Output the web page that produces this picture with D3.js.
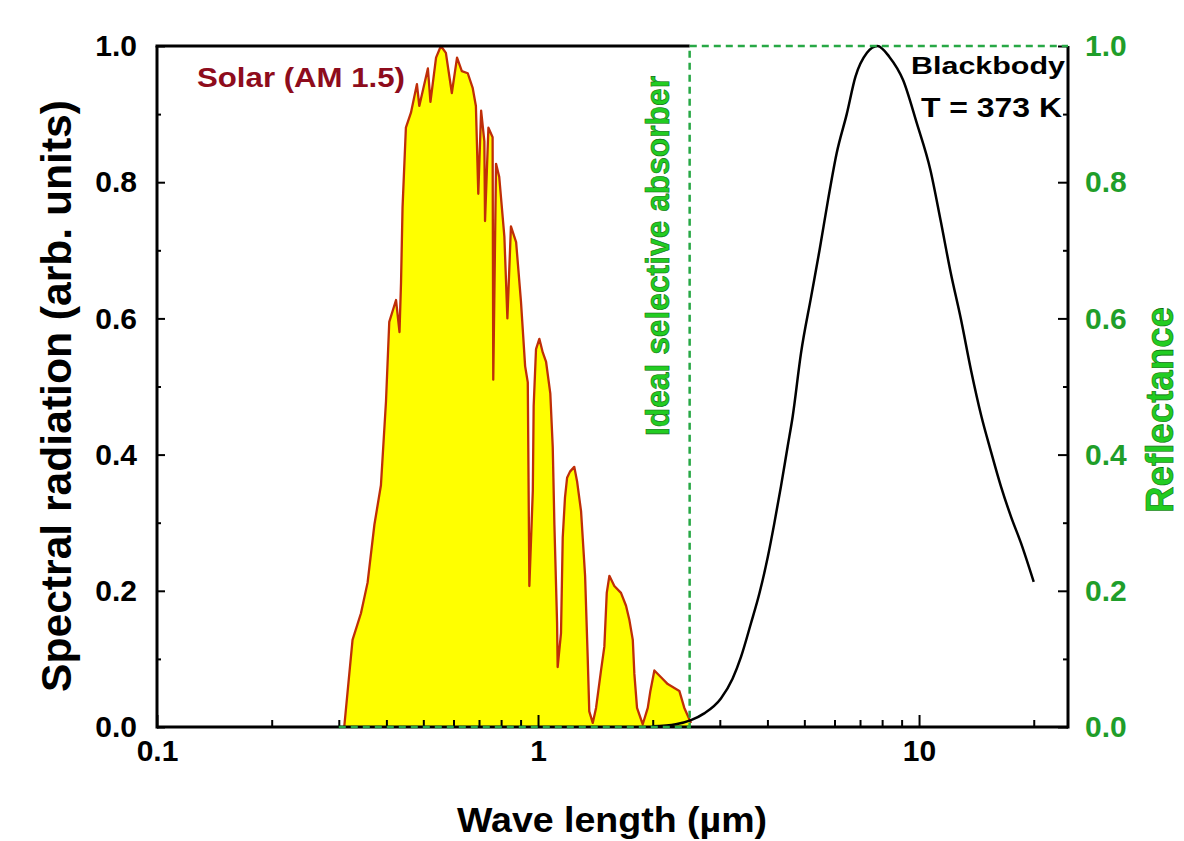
<!DOCTYPE html>
<html>
<head>
<meta charset="utf-8">
<script src="https://cdn.jsdelivr.net/npm/d3@7"></script>
<style>
  body { margin: 0; background: #fff; }
  svg text { font-family: "Liberation Sans", Arial, sans-serif; font-weight: bold; }
</style>
</head>
<body>
<svg id="chart" width="1184" height="841"></svg>
<script>
// solar spectrum (AM 1.5), wavelength in um and normalised value
var solarWl = [0.310, 0.326, 0.343, 0.357, 0.372, 0.387, 0.399, 0.407, 0.424, 0.433,
  0.437, 0.441, 0.450, 0.464, 0.481, 0.488, 0.514, 0.522, 0.540, 0.556,
  0.573, 0.594, 0.613, 0.631, 0.654, 0.674, 0.687, 0.697, 0.709, 0.723,
  0.726, 0.741, 0.760, 0.763, 0.776, 0.791, 0.816, 0.831, 0.849, 0.876,
  0.902, 0.925, 0.940, 0.949, 0.969, 0.974, 0.988, 1.008, 1.029, 1.050,
  1.077, 1.093, 1.104, 1.122, 1.126, 1.149, 1.161, 1.177, 1.192, 1.213,
  1.245, 1.266, 1.297, 1.329, 1.350, 1.363, 1.392, 1.420, 1.464, 1.493,
  1.515, 1.539, 1.586, 1.651, 1.702, 1.736, 1.773, 1.790, 1.819, 1.883,
  1.941, 1.972, 2.020, 2.103, 2.190, 2.349, 2.421, 2.521];
var solarVal = [0.000, 0.128, 0.167, 0.212, 0.297, 0.355, 0.478, 0.595, 0.627, 0.580,
  0.653, 0.763, 0.880, 0.902, 0.944, 0.912, 0.967, 0.918, 0.983, 1.000,
  0.990, 0.931, 0.983, 0.963, 0.960, 0.938, 0.912, 0.783, 0.905, 0.860,
  0.743, 0.880, 0.866, 0.510, 0.827, 0.808, 0.720, 0.600, 0.735, 0.712,
  0.625, 0.530, 0.506, 0.207, 0.347, 0.471, 0.555, 0.570, 0.550, 0.536,
  0.490, 0.411, 0.297, 0.153, 0.088, 0.138, 0.278, 0.337, 0.366, 0.375,
  0.382, 0.361, 0.317, 0.222, 0.103, 0.023, 0.006, 0.028, 0.084, 0.118,
  0.197, 0.222, 0.207, 0.197, 0.178, 0.158, 0.128, 0.078, 0.028, 0.004,
  0.028, 0.053, 0.083, 0.073, 0.063, 0.053, 0.028, 0.006];

// blackbody at 373 K
var bbWl = [2.0, 2.3, 2.52, 2.73, 3.02, 3.24, 3.41, 3.62, 3.81, 4.01,
  4.17, 4.34, 4.52, 4.66, 4.90, 5.21, 5.48, 5.77, 6.08, 6.46,
  6.81, 7.30, 7.78, 8.36, 9.08, 9.86, 10.71, 11.39, 12.11, 12.89,
  13.69, 14.58, 15.4, 16.41, 17.43, 18.52, 20.0];
var bbVal = [0.001, 0.004, 0.010, 0.020, 0.042, 0.071, 0.103, 0.152, 0.196, 0.250,
  0.299, 0.353, 0.412, 0.456, 0.549, 0.632, 0.700, 0.774, 0.843, 0.900,
  0.955, 0.990, 1.000, 0.984, 0.950, 0.887, 0.818, 0.744, 0.667, 0.598,
  0.524, 0.456, 0.407, 0.353, 0.309, 0.270, 0.213];

// ideal selective absorber reflectance
var reflWl = [0.3, 2.5, 2.5, 24.6];
var reflVal = [0, 0, 1, 1];

var xMajor = [0.1, 1, 10];
var xMinor = [0.2, 0.3, 0.4, 0.5, 0.6, 0.7, 0.8, 0.9, 2, 3, 4, 5, 6, 7, 8, 9, 20];
var yMajor = [0, 0.2, 0.4, 0.6, 0.8, 1.0];
var yMinor = [0.1, 0.3, 0.5, 0.7, 0.9];

var svg = d3.select("#chart");
var plot = {left: 157, right: 1068, top: 46, bottom: 727};
var green = "#1f9e2a";

var x = d3.scaleLog().domain([0.1, 24.6]).range([plot.left, plot.right]);
var y = d3.scaleLinear().domain([0, 1]).range([plot.bottom, plot.top]);

var solar = solarWl.map(function(w, i) { return {wl: w, v: solarVal[i]}; });
var bb = bbWl.map(function(w, i) { return {wl: w, v: bbVal[i]}; });
var refl = reflWl.map(function(w, i) { return {wl: w, v: reflVal[i]}; });

// solar fill + outline
svg.append("path")
  .datum(solar)
  .attr("fill", "#ffff00")
  .attr("d", d3.area().x(d => x(d.wl)).y0(y(0)).y1(d => y(d.v)));

svg.append("path")
  .datum(solar)
  .attr("fill", "none")
  .attr("stroke", "#bf2e08")
  .attr("stroke-width", 2.3)
  .attr("stroke-linejoin", "round")
  .attr("d", d3.line().x(d => x(d.wl)).y(d => y(d.v)));

// blackbody
svg.append("path")
  .datum(bb)
  .attr("fill", "none")
  .attr("stroke", "#000")
  .attr("stroke-width", 2.5)
  .attr("d", d3.line().curve(d3.curveMonotoneX).x(d => x(d.wl)).y(d => y(d.v)));

// axes (ticks inward)
var gBottom = svg.append("g").attr("transform", "translate(0," + plot.bottom + ")");
gBottom.call(d3.axisBottom(x).tickValues(xMajor).tickSize(-12).tickPadding(13).tickFormat(d3.format("")));
gBottom.append("g").call(d3.axisBottom(x).tickValues(xMinor).tickSize(-7).tickFormat(""));

var gLeft = svg.append("g").attr("transform", "translate(" + plot.left + ",0)");
gLeft.call(d3.axisLeft(y).tickValues(yMajor).tickSize(-8).tickPadding(20).tickFormat(d3.format(".1f")));
gLeft.append("g").call(d3.axisLeft(y).tickValues(yMinor).tickSize(-4).tickFormat(""));

var gRight = svg.append("g").attr("transform", "translate(" + plot.right + ",0)");
gRight.call(d3.axisRight(y).tickValues(yMajor).tickSize(-10).tickPadding(17).tickFormat(d3.format(".1f")));
gRight.append("g").call(d3.axisRight(y).tickValues(yMinor).tickSize(-5).tickFormat(""));

svg.selectAll(".domain").remove();
svg.selectAll(".tick line").attr("stroke", "#000").attr("stroke-width", 2);
svg.selectAll(".tick text").attr("font-size", 30).attr("fill", "#000")
  .attr("font-family", "'Liberation Sans', Arial, sans-serif").attr("font-weight", "bold");
gRight.selectAll(".tick text").attr("fill", green);

// frame
var frame = svg.append("g").attr("stroke", "#000").attr("stroke-width", 3).attr("fill", "none");
frame.append("line").attr("x1", plot.left).attr("x2", plot.left).attr("y1", plot.top).attr("y2", plot.bottom + 1.5);
frame.append("line").attr("x1", plot.left).attr("x2", plot.right).attr("y1", plot.bottom).attr("y2", plot.bottom);
frame.append("line").attr("x1", plot.right).attr("x2", plot.right).attr("y1", plot.top).attr("y2", plot.bottom + 1.5);
frame.append("line").attr("x1", plot.left - 1.5).attr("x2", x(2.5)).attr("y1", plot.top).attr("y2", plot.top);

// reflectance
svg.append("path")
  .datum(refl)
  .attr("fill", "none")
  .attr("stroke", "#27a845")
  .attr("stroke-width", 2.5)
  .attr("stroke-dasharray", "7,5")
  .attr("d", d3.line().x(d => x(d.wl)).y(d => y(d.v)));

// labels
svg.append("text")
  .attr("x", 197).attr("y", 87)
  .attr("font-size", 28).attr("fill", "#8e0c1c")
  .attr("textLength", 208).attr("lengthAdjust", "spacingAndGlyphs")
  .text("Solar (AM 1.5)");

svg.append("text")
  .attr("x", 911).attr("y", 74)
  .attr("font-size", 23).attr("fill", "#000")
  .attr("textLength", 154).attr("lengthAdjust", "spacingAndGlyphs")
  .text("Blackbody");

svg.append("text")
  .attr("x", 921).attr("y", 117)
  .attr("font-size", 28).attr("fill", "#000")
  .attr("textLength", 141).attr("lengthAdjust", "spacingAndGlyphs")
  .text("T = 373 K");

svg.append("text")
  .attr("transform", "translate(669,256) rotate(-90)")
  .attr("text-anchor", "middle")
  .attr("font-size", 34).attr("fill", "#22cc22")
  .attr("stroke", "#0a6a0a").attr("stroke-width", 0.6)
  .attr("textLength", 360).attr("lengthAdjust", "spacingAndGlyphs")
  .text("Ideal selective absorber");

svg.append("text")
  .attr("transform", "translate(71,396) rotate(-90)")
  .attr("text-anchor", "middle")
  .attr("font-size", 43).attr("fill", "#000")
  .attr("textLength", 592).attr("lengthAdjust", "spacingAndGlyphs")
  .text("Spectral radiation (arb. units)");

svg.append("text")
  .attr("transform", "translate(1173,410) rotate(-90)")
  .attr("text-anchor", "middle")
  .attr("font-size", 38).attr("fill", "#22cc22")
  .attr("stroke", "#0a6a0a").attr("stroke-width", 0.6)
  .attr("textLength", 206).attr("lengthAdjust", "spacingAndGlyphs")
  .text("Reflectance");

svg.append("text")
  .attr("x", 612).attr("y", 832)
  .attr("text-anchor", "middle")
  .attr("font-size", 35).attr("fill", "#000")
  .attr("textLength", 310).attr("lengthAdjust", "spacingAndGlyphs")
  .text("Wave length (µm)");
</script>
</body>
</html>
